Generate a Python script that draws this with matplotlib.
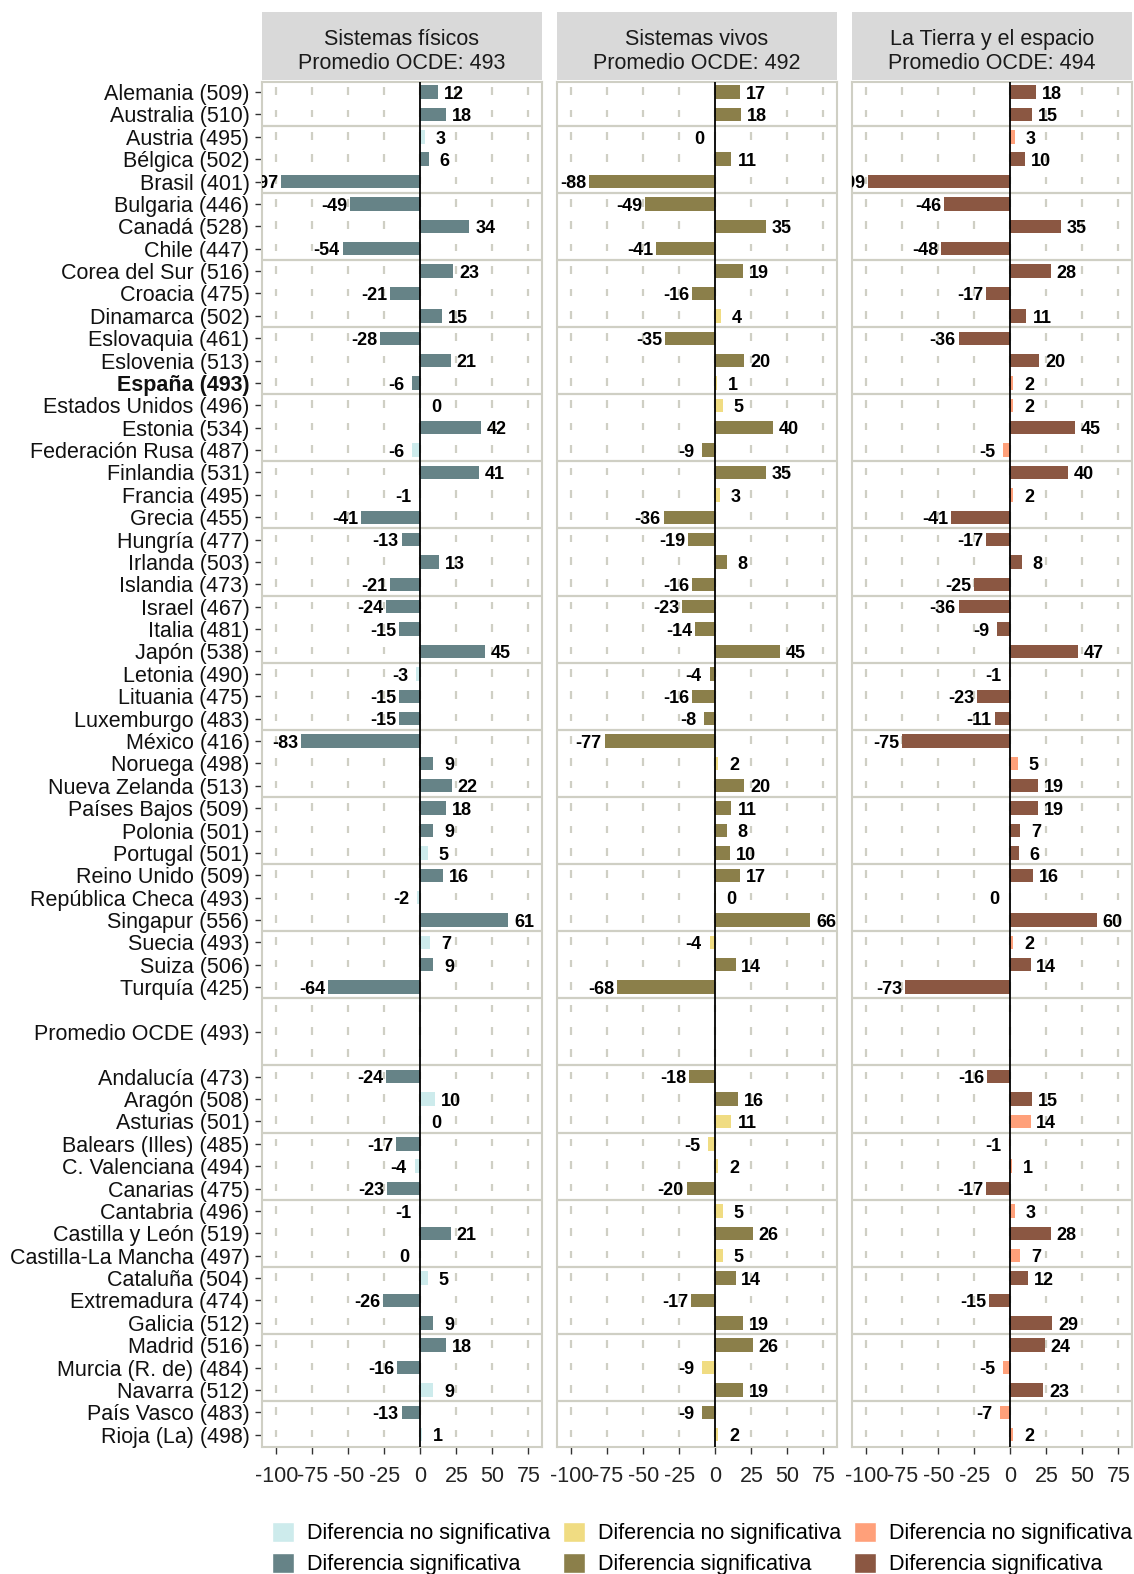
import matplotlib
matplotlib.use("Agg")
import matplotlib.pyplot as plt
import numpy as np
from matplotlib.patches import Patch

plt.rcParams["font.family"] = ["Liberation Sans", "DejaVu Sans"]
plt.rcParams["axes.unicode_minus"] = False

nan = np.nan

labels = [
    "Alemania (509)", "Australia (510)", "Austria (495)", "Bélgica (502)",
    "Brasil (401)", "Bulgaria (446)", "Canadá (528)", "Chile (447)",
    "Corea del Sur (516)", "Croacia (475)", "Dinamarca (502)",
    "Eslovaquia (461)", "Eslovenia (513)", "España (493)",
    "Estados Unidos (496)", "Estonia (534)", "Federación Rusa (487)",
    "Finlandia (531)", "Francia (495)", "Grecia (455)", "Hungría (477)",
    "Irlanda (503)", "Islandia (473)", "Israel (467)", "Italia (481)",
    "Japón (538)", "Letonia (490)", "Lituania (475)", "Luxemburgo (483)",
    "México (416)", "Noruega (498)", "Nueva Zelanda (513)",
    "Países Bajos (509)", "Polonia (501)", "Portugal (501)",
    "Reino Unido (509)", "República Checa (493)", "Singapur (556)",
    "Suecia (493)", "Suiza (506)", "Turquía (425)",
    "", "Promedio OCDE (493)", "",
    "Andalucía (473)", "Aragón (508)", "Asturias (501)",
    "Balears (Illes) (485)", "C. Valenciana (494)", "Canarias (475)",
    "Cantabria (496)", "Castilla y León (519)", "Castilla-La Mancha (497)",
    "Cataluña (504)", "Extremadura (474)", "Galicia (512)",
    "Madrid (516)", "Murcia (R. de) (484)", "Navarra (512)",
    "País Vasco (483)", "Rioja (La) (498)",
]

# differences with the OECD average (small +/- decimals only set the side of "0" labels)
fisicos = [12, 18, 3, 6, -97, -49, 34, -54, 23, -21, 15, -28, 21, -6, 0.2, 42,
           -6, 41, -1, -41, -13, 13, -21, -24, -15, 45, -3, -15, -15, -83, 9,
           22, 18, 9, 5, 16, -2, 61, 7, 9, -64, nan, nan, nan,
           -24, 10, 0.2, -17, -4, -23, -1, 21, -0.2, 5, -26, 9, 18, -16, 9,
           -13, 1]
vivos = [17, 18, -0.2, 11, -88, -49, 35, -41, 19, -16, 4, -35, 20, 1, 5, 40,
         -9, 35, 3, -36, -19, 8, -16, -23, -14, 45, -4, -16, -8, -77, 2, 20,
         11, 8, 10, 17, 0.2, 66, -4, 14, -68, nan, nan, nan,
         -18, 16, 11, -5, 2, -20, 5, 26, 5, 14, -17, 19, 26, -9, 19, -9, 2]
tierra = [18, 15, 3, 10, -99, -46, 35, -48, 28, -17, 11, -36, 20, 2, 2, 45,
          -5, 40, 2, -41, -17, 8, -25, -36, -9, 47, -1, -23, -11, -75, 5, 19,
          19, 7, 6, 16, -0.2, 60, 2, 14, -73, nan, nan, nan,
          -16, 15, 14, -1, 1, -17, 3, 28, 7, 12, -15, 29, 24, -5, 23, -7, 2]

# 1 = diferencia significativa, 0 = no significativa
sig_fisicos = [1, 1, 0, 1, 1, 1, 1, 1, 1, 1, 1, 1, 1, 1, 0, 1, 0, 1, 0, 1, 1,
               1, 1, 1, 1, 1, 0, 1, 1, 1, 1, 1, 1, 1, 0, 1, 0, 1, 0, 1, 1,
               0, 0, 0,
               1, 0, 0, 1, 0, 1, 0, 1, 0, 0, 1, 1, 1, 1, 0, 1, 0]
sig_vivos = [1, 1, 0, 1, 1, 1, 1, 1, 1, 1, 0, 1, 1, 0, 0, 1, 1, 1, 0, 1, 1,
             1, 1, 1, 1, 1, 1, 1, 1, 1, 0, 1, 1, 1, 1, 1, 0, 1, 0, 1, 1,
             0, 0, 0,
             1, 1, 0, 0, 0, 1, 0, 1, 0, 1, 1, 1, 1, 0, 1, 1, 0]
sig_tierra = [1, 1, 0, 1, 1, 1, 1, 1, 1, 1, 1, 1, 1, 0, 0, 1, 0, 1, 0, 1, 1,
              1, 1, 1, 1, 1, 0, 1, 1, 1, 0, 1, 1, 1, 1, 1, 0, 1, 0, 1, 1,
              0, 0, 0,
              1, 1, 0, 0, 0, 1, 0, 1, 0, 1, 1, 1, 1, 0, 1, 0, 0]

panels = [
    ("Sistemas físicos\nPromedio OCDE: 493", fisicos, sig_fisicos,
     "#cdebec", "#668387"),
    ("Sistemas vivos\nPromedio OCDE: 492", vivos, sig_vivos,
     "#f0dc82", "#8b7f4a"),
    ("La Tierra y el espacio\nPromedio OCDE: 494", tierra, sig_tierra,
     "#ffa07a", "#8b5742"),
]

W, H = 1134, 1574
fig = plt.figure(figsize=(W / 100, H / 100), dpi=100)

rows = np.arange(len(labels))
xticks = np.arange(-100, 76, 25)
grid_col = "#cfcfc4"
fs = 15.5

lefts = [262, 557, 852]
pw = 280
top, bottom = 82, 1447

for i, (title, vals, sig, c_no, c_si) in enumerate(panels):
    l = lefts[i]
    ax = fig.add_axes([l / W, 1 - bottom / H, pw / W, (bottom - top) / H])
    vals = np.array(vals, dtype=float)
    sig = np.array(sig)
    ok = ~np.isnan(vals)

    # dashed vertical grid, one dash per row
    for xt in xticks:
        ax.vlines(np.full(len(rows), xt), rows - 0.22, rows + 0.12,
                  color=grid_col, lw=1.6, zorder=0)
    for yl in np.arange(1.5, len(rows) - 1, 3):
        ax.axhline(yl, color=grid_col, lw=1.6, zorder=1)

    colors = np.where(sig[ok] == 1, c_si, c_no)
    ax.barh(rows[ok], vals[ok], height=0.6, color=colors, zorder=2)
    ax.axvline(0, color="black", lw=1.3, zorder=3)

    for y, v in zip(rows[ok], vals[ok]):
        off = 11 if v >= 0 else -11
        ax.text(v + off, y + 0.1, f"{int(round(v))}", ha="center",
                va="center", fontsize=13, fontweight="bold", clip_on=True,
                zorder=4)

    ax.set_xlim(-110, 84.5)
    ax.set_ylim(len(rows) - 0.45, -0.45)
    ax.set_xticks(xticks)
    ax.set_xticklabels([str(t) for t in xticks], fontsize=fs, color="#222222")
    ax.tick_params(axis="x", length=5, width=1, color="#333333", pad=9)
    for sp in ax.spines.values():
        sp.set_color(grid_col)
        sp.set_linewidth(1.5)
    if i == 0:
        named = [r for r in rows if labels[r]]
        ax.set_yticks(named)
        ax.set_yticklabels([labels[r] for r in named], fontsize=fs,
                           color="#111111")
        ax.tick_params(axis="y", length=5, width=1, color="#333333", pad=4)
        for t in ax.get_yticklabels():
            if t.get_text().startswith("España"):
                t.set_fontweight("bold")
    else:
        ax.set_yticks([])

    sax = fig.add_axes([l / W, 1 - 80 / H, pw / W, 68 / H])
    sax.set_facecolor("#d9d9d9")
    sax.set_xticks([])
    sax.set_yticks([])
    for sp in sax.spines.values():
        sp.set_visible(False)
    sax.text(0.5, 0.42, title, ha="center", va="center", fontsize=fs,
             color="#1a1a1a", linespacing=1.2, transform=sax.transAxes)

handles = []
names = []
for title, vals, sig, c_no, c_si in panels:
    handles += [Patch(facecolor=c_no, edgecolor="white"),
                Patch(facecolor=c_si, edgecolor="white")]
    names += ["Diferencia no significativa", "Diferencia significativa"]

fig.legend(handles, names, ncol=3, loc="upper left",
           bbox_to_anchor=(272 / W, 1 - 1522 / H), frameon=False,
           fontsize=fs, handlelength=1.02, handleheight=1.05,
           handletextpad=0.6, columnspacing=0.6, labelspacing=0.4,
           borderpad=0, borderaxespad=0)

fig.savefig("out.png", dpi=100)
